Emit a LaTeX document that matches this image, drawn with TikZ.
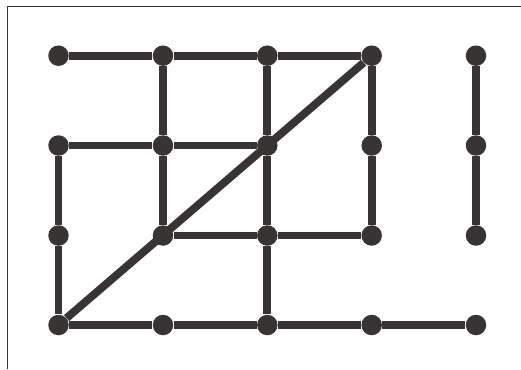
\documentclass[tikz,border=0pt]{standalone}
\usepackage{tikz}
\usepackage{xcolor}
\definecolor{ink}{HTML}{383433}
\definecolor{frame}{HTML}{333333}

\begin{document}
\begin{tikzpicture}[x=0.02cm, y=-0.02cm,
    dot/.style={circle, fill=ink, inner sep=0pt, minimum size=0.41cm},
    link/.style={draw=ink, line width=4.5pt},
    edge/.style={draw=frame, line width=0.8pt}]

  \useasboundingbox (0,0) rectangle (521,369);

  % frame
  \coordinate (tl) at (7.5,6.5);
  \coordinate (tr) at (521,6.5);
  \coordinate (bl) at (7.5,369);
  \draw[edge] (tr) -- (tl) -- (bl);

  % grid of dots
  \foreach \r/\y in {1/55.7, 2/145.5, 3/235.5, 4/325}
    \foreach \c/\x in {1/58.5, 2/163, 3/267.3, 4/371.7, 5/476}
      \node[dot] (p\r\c) at (\x,\y) {};

  % strokes
  \draw[link] (p11) -- (p12) -- (p13) -- (p14);
  \draw[link] (p15) -- (p25) -- (p35);
  \draw[link] (p21) -- (p22) -- (p23);
  \draw[link] (p12) -- (p22) -- (p32);
  \draw[link] (p13) -- (p23) -- (p33) -- (p43);
  \draw[link] (p14) -- (p24) -- (p34);
  \draw[link] (p32) -- (p33) -- (p34);
  \draw[link] (p21) -- (p31) -- (p41);
  \draw[link] (p41) -- (p14);
  \draw[link] (p41) -- (p42) -- (p43) -- (p44) -- (p45);
\end{tikzpicture}
\end{document}
